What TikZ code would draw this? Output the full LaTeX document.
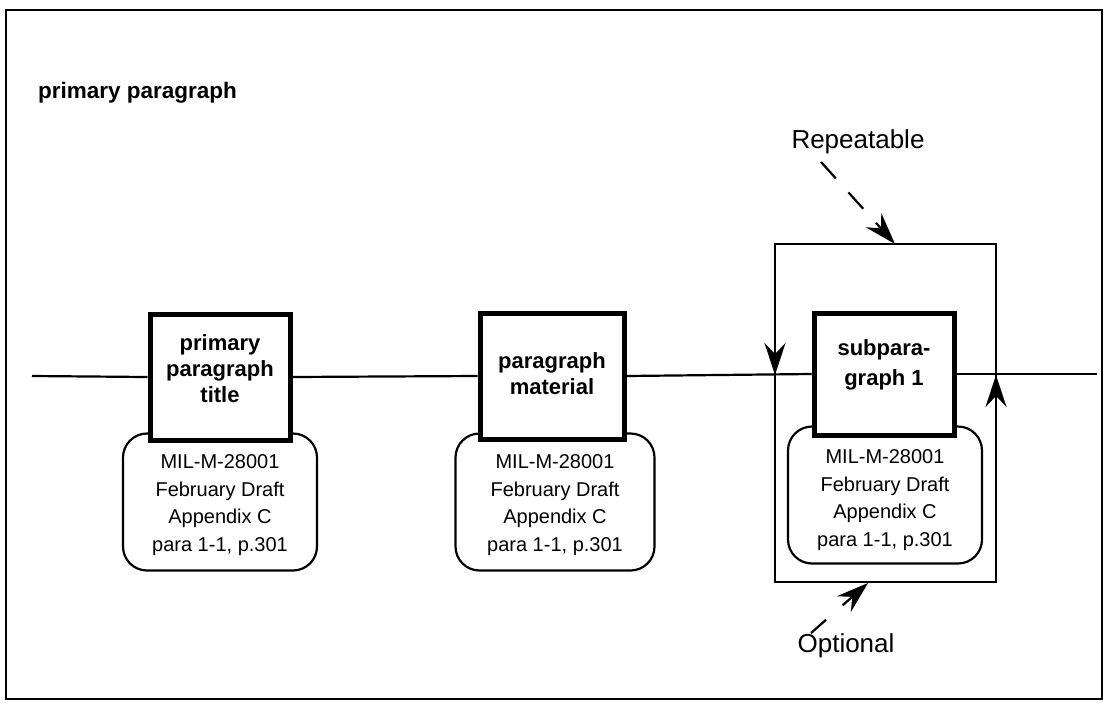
\documentclass[tikz,border=0pt]{standalone}
\usepackage{fontspec}
\setmainfont{Liberation Sans}
\usetikzlibrary{arrows.meta}
\begin{document}
\begin{tikzpicture}[x=1pt,y=-1pt,
  ln/.style={line width=2.2pt},
  sqbox/.style={draw, line width=5pt, fill=white, minimum width=140pt, minimum height=126pt, inner sep=0pt},
  sqtext/.style={font=\fontsize{22}{26}\selectfont\bfseries, align=center, inner sep=0pt},
  rbox/.style={draw, line width=2.2pt, rounded corners=24pt, fill=white, minimum width=194pt,
    minimum height=137pt, inner sep=0pt},
  rtext/.style={font=\fontsize{20}{27.5}\selectfont, align=center, inner sep=0pt},
  lbl/.style={font=\fontsize{26}{30}\selectfont, inner sep=0pt},
  tip/.style={-{Stealth[length=32pt,width=21pt,inset=11pt]}}
]
\useasboundingbox (0,0) rectangle (1105,702);
\draw[line width=2.2pt] (6,10) rectangle (1102,699);

\node[anchor=base west, font=\fontsize{22.5}{26}\selectfont\bfseries, inner sep=0pt] (title) at (38,98) {primary paragraph};

% reference boxes
\node[rbox] (r1) at (220,502) {};
\node[rbox, minimum width=199pt] (r2) at (555,502) {};
\node[rbox] (r3) at (885,495) {};
\node[rtext] (r1x) at (r1.center) [yshift=-3pt] {MIL-M-28001\\February Draft\\Appendix C\\para 1-1, p.301};
\node[rtext] (r2x) at (r2.center) [yshift=-3pt] {MIL-M-28001\\February Draft\\Appendix C\\para 1-1, p.301};
\node[rtext] (r3x) at (r3.center) [yshift=-5pt] {MIL-M-28001\\February Draft\\Appendix C\\para 1-1, p.301};

% title boxes
\node[sqbox] (t1) at (220,377) {};
\node[sqbox, minimum width=144pt] (t2) at (552,376) {};
\node[sqbox, minimum height=122pt] (t3) at (884,374) {};
\node[sqtext] (t1x) at (t1.center) [yshift=8pt] {primary\\paragraph\\title};
\node[sqtext] (t2x) at (t2.center) [yshift=2pt] {paragraph\\material};
\node[sqtext, font=\fontsize{22}{30}\selectfont\bfseries] (t3x) at (t3.center) [yshift=9pt] {subpara-\\graph 1};

% main line
\coordinate (s) at (32,376);
\coordinate (e) at (1097,374);
\draw[ln] (s) -- (t1.west);
\draw[ln] (t1.east) -- (t2.west);
\draw[ln] (t2.east) -- (t3.west);
\draw[ln] (t3.east) -- (e);

% repeat / optional loop
\coordinate (lt) at (775,244);
\coordinate (rt) at (996,244);
\coordinate (lb) at (775,582);
\coordinate (rb) at (996,582);
\coordinate (lm) at (775,375);
\coordinate (rm) at (996,375);
\draw[ln] (lt) -- (rt) -- (rb) -- (lb) -- cycle;
\draw[ln, tip] (lt) -- (lm);
\draw[ln, tip] (rb) -- (rm);

% labels
\node[lbl] (rep) at (858,142) {Repeatable};
\node[lbl] (opt) at (846,646) {Optional};
\coordinate (repS) at (821,162);
\coordinate (repT) at (895,244);
\coordinate (optS) at (811,633);
\coordinate (optT) at (868,583);
\draw[ln, dash pattern=on 22pt off 19pt, tip] (repS) -- (repT);
\draw[ln, dash pattern=on 20pt off 22pt, tip] (optS) -- (optT);
\end{tikzpicture}
\end{document}
